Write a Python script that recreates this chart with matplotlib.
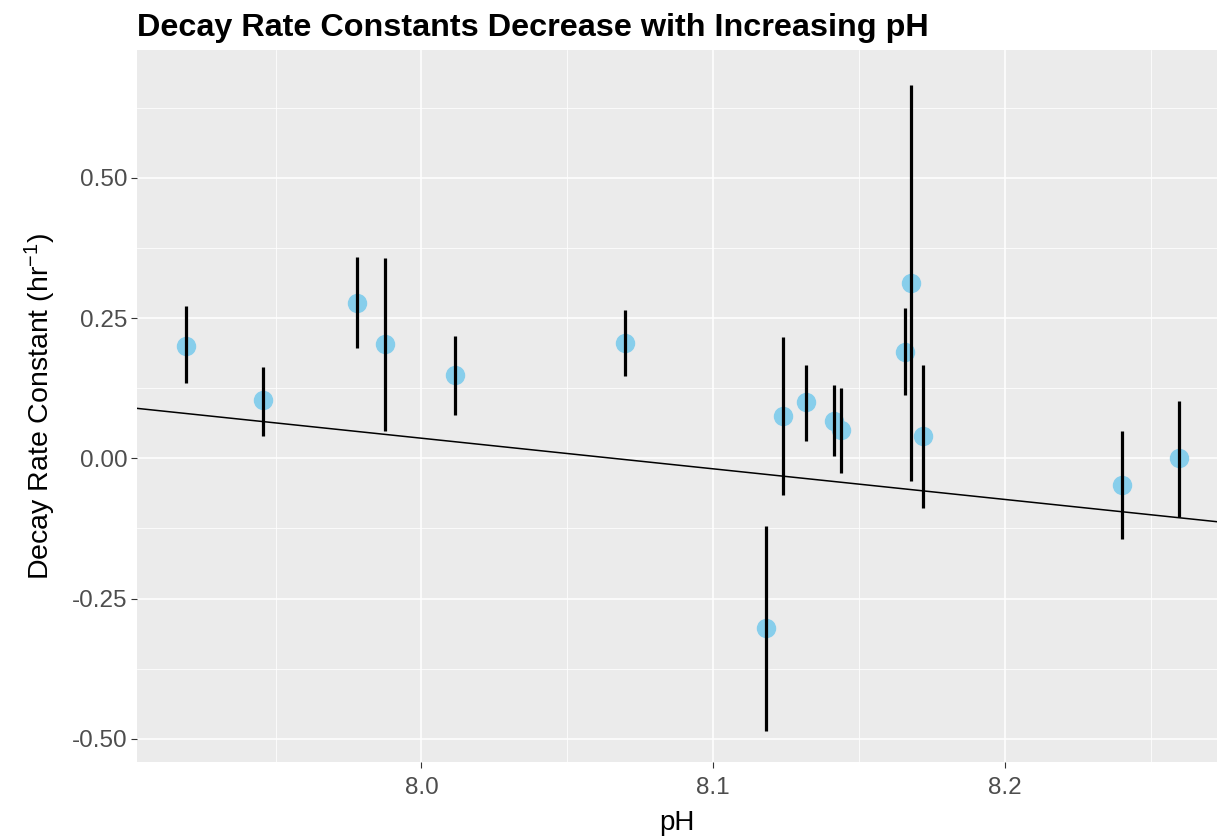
import numpy as np
import matplotlib.pyplot as plt
from matplotlib.ticker import MultipleLocator

plt.rcParams['font.family'] = ['Liberation Sans', 'DejaVu Sans']
plt.rcParams['mathtext.fontset'] = 'custom'
plt.rcParams['mathtext.rm'] = 'Liberation Sans'
plt.rcParams['mathtext.it'] = 'Liberation Sans:italic'

# pH e constantes de decaimento
ph = [7.9193, 7.9457, 7.9779, 7.9875, 8.0115, 8.0698, 8.1181, 8.1238,
      8.1319, 8.1415, 8.1437, 8.1656, 8.1678, 8.1720, 8.2400, 8.2597]
k = [0.201, 0.104, 0.276, 0.204, 0.148, 0.206, -0.302, 0.075,
     0.101, 0.067, 0.050, 0.189, 0.312, 0.040, -0.048, 0.000]
k_lo = [0.135, 0.040, 0.196, 0.049, 0.077, 0.147, -0.486, -0.065,
        0.031, 0.004, -0.027, 0.112, -0.040, -0.088, -0.144, -0.104]
k_hi = [0.271, 0.163, 0.359, 0.357, 0.218, 0.265, -0.121, 0.217,
        0.166, 0.130, 0.125, 0.267, 0.665, 0.166, 0.049, 0.103]

# reta de regressão (extremos)
fit_ph = [7.9025, 8.2727]
fit_k = [0.089, -0.113]

fig = plt.figure(figsize=(12.17, 8.36), dpi=100)
ax = fig.add_axes([137 / 1217, 1 - 762 / 836, (1217 - 137) / 1217, (762 - 50) / 836])
ax.set_facecolor('#EBEBEB')
for s in ax.spines.values():
    s.set_visible(False)

ax.set_xlim(7.9025, 8.2727)
ax.set_ylim(-0.5412, 0.7276)
ax.xaxis.set_major_locator(MultipleLocator(0.1))
ax.xaxis.set_minor_locator(MultipleLocator(0.05))
ax.yaxis.set_major_locator(MultipleLocator(0.25))
ax.yaxis.set_minor_locator(MultipleLocator(0.125))
ax.grid(which='major', color='white', linewidth=1.1)
ax.grid(which='minor', color='white', linewidth=0.55)
ax.set_axisbelow(True)
ax.set_xticks([8.0, 8.1, 8.2])
ax.set_xticklabels(['8.0', '8.1', '8.2'])
ax.set_yticks([-0.5, -0.25, 0.0, 0.25, 0.5])
ax.set_yticklabels(['-0.50', '-0.25', '0.00', '0.25', '0.50'])
ax.tick_params(which='major', length=4, width=0.8, color='#333333',
               labelsize=17.5, labelcolor='#4D4D4D', pad=3)
ax.tick_params(axis='x', which='major', pad=7)
ax.tick_params(which='minor', length=0)

ax.plot(ph, k, 'o', color='#87CEEB', markersize=13, zorder=3)
k_arr = np.array(k)
yerr = [k_arr - np.array(k_lo), np.array(k_hi) - k_arr]
ax.errorbar(ph, k, yerr=yerr, fmt='none', ecolor='black', elinewidth=2.3, capsize=0, zorder=4)
ax.plot(fit_ph, fit_k, color='black', linewidth=1.1, zorder=5)

ax.set_xlabel('pH', fontsize=20, labelpad=8)
ax.set_ylabel(r'Decay Rate Constant (hr$^{-1}$)', fontsize=20.5, labelpad=10)
ax.set_title('Decay Rate Constants Decrease with Increasing pH', fontsize=23.3,
             fontweight='bold', loc='left', pad=10)

fig.savefig('out.png', dpi=100)
